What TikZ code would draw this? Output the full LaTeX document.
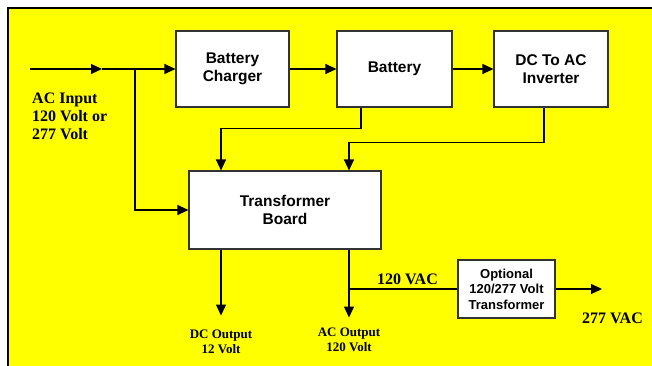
\documentclass[tikz,border=0pt]{standalone}
\usepackage{fontspec}
\setmainfont{Liberation Serif}
\setsansfont{Liberation Sans}
\usepackage{tikz}
\usetikzlibrary{arrows.meta, positioning}
\definecolor{panel}{HTML}{FFFF00}
\definecolor{boxline}{HTML}{333333}

\begin{document}
\begin{tikzpicture}[
    x=1pt, y=-1pt,
    >={Triangle[length=11pt, width=10pt]},
    block/.style={draw=boxline, line width=1.1pt, fill=white, align=center, inner sep=0pt, font=\sffamily\bfseries\fontsize{15.5}{18}\selectfont},
    wire/.style={line width=1.1pt},
    lbl/.style={font=\bfseries\fontsize{16}{18}\selectfont, inner sep=0pt, align=left},
    outlbl/.style={font=\bfseries\fontsize{13}{15}\selectfont, inner sep=0pt, align=center},
]
    \useasboundingbox (0,0) rectangle (652,366);

    % Background panel
    \fill[panel] (8,8) rectangle (652,366);
    \draw[line width=2pt] (652,8) -- (8,8) -- (8,366);

    % Top row
    \node[block, minimum width=113pt, minimum height=76pt] (charger) at (232.5,69) {Battery\\Charger};
    \node[block, minimum width=115pt, minimum height=76pt] (battery) at (394.5,69) {Battery};
    \node[block, minimum width=114pt, minimum height=76pt] (inverter) at (551,69) {DC To AC\\Inverter};

    % Transformer board and optional transformer
    \node[block, minimum width=192pt, minimum height=78pt] (xfmr) at (285,210) {Transformer\\Board};
    \node[block, minimum width=97pt, minimum height=58pt, font=\sffamily\bfseries\fontsize{13}{15.5}\selectfont] (opt) at (506.5,289) {Optional\\120/277 Volt\\Transformer};

    % AC input
    \coordinate (in) at (30,69);
    \coordinate (mid) at (102,69);
    \coordinate (split) at (135,69);
    \draw[wire, ->] (in) -- (mid);
    \draw[wire] (mid) -- (split);
    \draw[wire, ->] (split) -- (charger);
    \draw[wire, ->] (split) |- (xfmr.west);
    \node[lbl, anchor=north west] (aclabel) at (32,93) {AC Input\\120 Volt or\\277 Volt};

    % Chain along the top
    \draw[wire, ->] (charger) -- (battery);
    \draw[wire, ->] (battery) -- (inverter);

    % Feeds into the board
    \draw[wire, ->] ([xshift=-33.5pt]battery.south) -- ++(0,21) -| ([xshift=-64pt]xfmr.north);
    \draw[wire, ->] ([xshift=-7pt]inverter.south) -- ++(0,35) -| ([xshift=64pt]xfmr.north);

    % Outputs
    \draw[wire, ->] ([xshift=-64pt]xfmr.south) -- ++(0,66);
    \draw[wire, ->] ([xshift=64pt]xfmr.south) -- ++(0,68);
    \node[outlbl, anchor=north] (dcout) at (221,330) {DC Output\\12 Volt};
    \node[outlbl, anchor=north] (acout) at (349,328) {AC Output\\120 Volt};

    % Optional 277 V branch
    \coordinate (actap) at (349,289);
    \coordinate (out277) at (602,289);
    \draw[wire] (actap) -- (opt.west);
    \draw[wire, ->] (opt.east) -- (out277);
    \node[lbl, anchor=north west] (v120) at (377,274) {120 VAC};
    \node[lbl, anchor=north west] (v277) at (582,313) {277 VAC};
\end{tikzpicture}
\end{document}
